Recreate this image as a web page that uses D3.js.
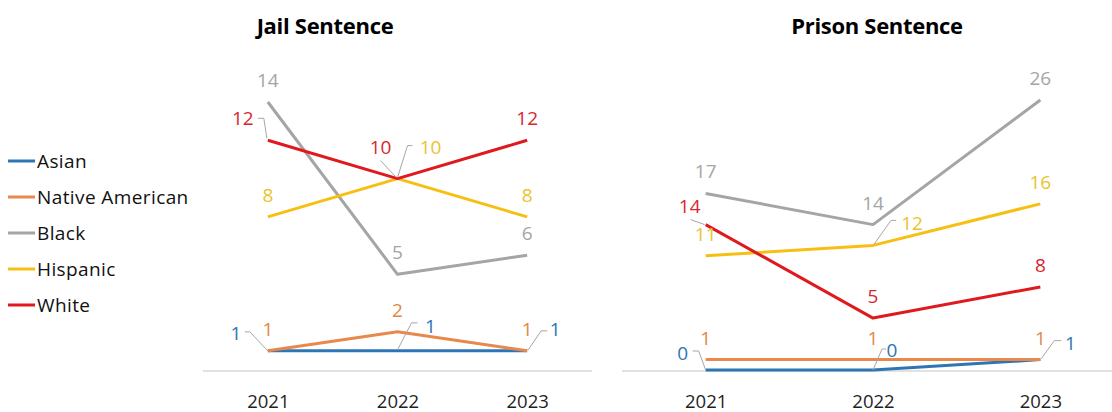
<!DOCTYPE html>
<html>
<head>
<meta charset="utf-8">
<script src="https://cdn.jsdelivr.net/npm/d3@7"></script>
<style>
  html, body { margin: 0; padding: 0; background: #fff; }
  svg { display: block; }
  text { font-family: "Open Sans", "DejaVu Sans", sans-serif; }
</style>
</head>
<body>
<svg id="chart" width="1112" height="412"></svg>
<script>
// ---- data ----
const years = ["2021", "2022", "2023"];
const seriesNames = ["Asian", "Native American", "Black", "Hispanic", "White"];
const jailTitle = "Jail Sentence";
const prisonTitle = "Prison Sentence";
const jailAsian = [1, 1, 1];
const jailNative = [1, 2, 1];
const jailBlack = [14, 5, 6];
const jailHispanic = [8, 10, 8];
const jailWhite = [12, 10, 12];
const prisonAsian = [0, 0, 1];
const prisonNative = [1, 1, 1];
const prisonBlack = [17, 14, 26];
const prisonHispanic = [11, 12, 16];
const prisonWhite = [14, 5, 8];

// ---- styles ----
const lineColors = { "Asian": "#2E75B6", "Native American": "#E8894B", "Black": "#A5A5A5", "Hispanic": "#F7BF12", "White": "#E0191E" };
const labelColors = { "Asian": "#2E75B6", "Native American": "#E0884A", "Black": "#A5A5A5", "Hispanic": "#EBC22E", "White": "#D9262E" };

const svg = d3.select("#chart");
const W = 1112;

// label placement overrides (offsets relative to the point) with leader lines
const jailPlacement = {
  "White|2021": { t: [-25, -22], leader: [[-10, -22], [-4, -22], [-1, -2]] },
  "White|2022": { t: [-17, -32], leader: [[-17, -18], [-2, -2]] },
  "Hispanic|2022": { t: [33, -32], leader: [[15, -33], [10, -33], [0, -1]] },
  "Asian|2021": { t: [-32, -18], leader: [[-23, -19], [-18, -19], [0, 0]] },
  "Asian|2022": { t: [33, -25], leader: [[20, -28], [14, -28], [0, -1]] },
  "Asian|2023": { t: [28, -22], leader: [[20, -20], [14, -20], [1, -1]] }
};
const prisonPlacement = {
  "White|2021": { t: [-16, -19], leader: [[-15, -5], [-1, 0]] },
  "Hispanic|2022": { t: [39, -22], leader: [[23, -25], [18, -25], [1, -1]] },
  "Asian|2021": { t: [-23, -17], leader: [[-13, -19], [-7, -19], [0, 0]] },
  "Asian|2022": { t: [19, -20], leader: [[13, -21], [9, -21], [0, 0]] },
  "Asian|2023": { t: [30, -17], leader: [[21, -19], [14, -19], [1, -1]] }
};

function drawPanel(cfg) {
  const x = d3.scalePoint().domain(years).range(cfg.xRange).padding(0.5);
  const y = d3.scaleLinear().domain([0, cfg.yMax]).range([370, cfg.yTop]);
  const g = svg.append("g");

  // title
  g.append("text")
    .attr("x", cfg.titleX).attr("y", 25)
    .attr("text-anchor", "middle").attr("dominant-baseline", "central")
    .attr("font-size", 22).attr("font-weight", "bold").attr("letter-spacing", -0.3)
    .attr("fill", "#000").text(cfg.title);

  // baseline axis
  const axis = d3.axisBottom(x).tickSize(0).tickPadding(0);
  const ax = g.append("g").attr("transform", "translate(0,371)").call(axis);
  ax.select(".domain").remove();
  ax.append("line")
    .attr("x1", cfg.xRange[0]).attr("x2", Math.min(cfg.xRange[1], W))
    .attr("stroke", "#D9D9D9").attr("stroke-width", 1.3);
  ax.selectAll(".tick text")
    .attr("y", 29).attr("dy", null).attr("dominant-baseline", "central")
    .attr("font-size", 18.5).attr("fill", "#1F1F1F")
    .style("font-family", '"Open Sans", sans-serif');

  const line = d3.line().x((d, i) => x(years[i])).y(d => y(d));
  cfg.series.forEach(s => {
    g.append("path").datum(s.values)
      .attr("d", line).attr("fill", "none")
      .attr("stroke", lineColors[s.name]).attr("stroke-width", 3)
      .attr("stroke-linejoin", "round").attr("stroke-linecap", "butt");
  });

  // labels
  cfg.series.forEach(s => {
    s.values.forEach((v, i) => {
      const px = x(years[i]), py = y(v);
      const p = cfg.placement[s.name + "|" + years[i]];
      let tx = px, ty = py - 22;
      if (p) {
        tx = px + p.t[0]; ty = py + p.t[1];
        g.append("polyline")
          .attr("points", p.leader.map(q => [px + q[0], py + q[1]].join(",")).join(" "))
          .attr("fill", "none").attr("stroke", "#A6A6A6").attr("stroke-width", 1);
      }
      g.append("text")
        .attr("x", tx).attr("y", ty)
        .attr("text-anchor", "middle").attr("dominant-baseline", "central")
        .attr("font-size", 19).attr("fill", labelColors[s.name])
        .text(v);
    });
  });
}

drawPanel({
  title: jailTitle, titleX: 325, xRange: [203, 592], yMax: 14, yTop: 102,
  placement: jailPlacement,
  series: [
    { name: "Asian", values: jailAsian },
    { name: "Native American", values: jailNative },
    { name: "Black", values: jailBlack },
    { name: "Hispanic", values: jailHispanic },
    { name: "White", values: jailWhite }
  ]
});
drawPanel({
  title: prisonTitle, titleX: 877, xRange: [622, 1124], yMax: 26, yTop: 100,
  placement: prisonPlacement,
  series: [
    { name: "Asian", values: prisonAsian },
    { name: "Native American", values: prisonNative },
    { name: "Black", values: prisonBlack },
    { name: "Hispanic", values: prisonHispanic },
    { name: "White", values: prisonWhite }
  ]
});

// legend
const lg = svg.append("g");
seriesNames.forEach((n, i) => {
  const yy = 161 + i * 36;
  lg.append("line").attr("x1", 8).attr("x2", 35).attr("y1", yy).attr("y2", yy)
    .attr("stroke", lineColors[n]).attr("stroke-width", 3);
  lg.append("text").attr("x", 37).attr("y", yy)
    .attr("dominant-baseline", "central").attr("font-size", 19).attr("letter-spacing", 0.4)
    .attr("fill", "#111").text(n);
});
</script>
</body>
</html>
